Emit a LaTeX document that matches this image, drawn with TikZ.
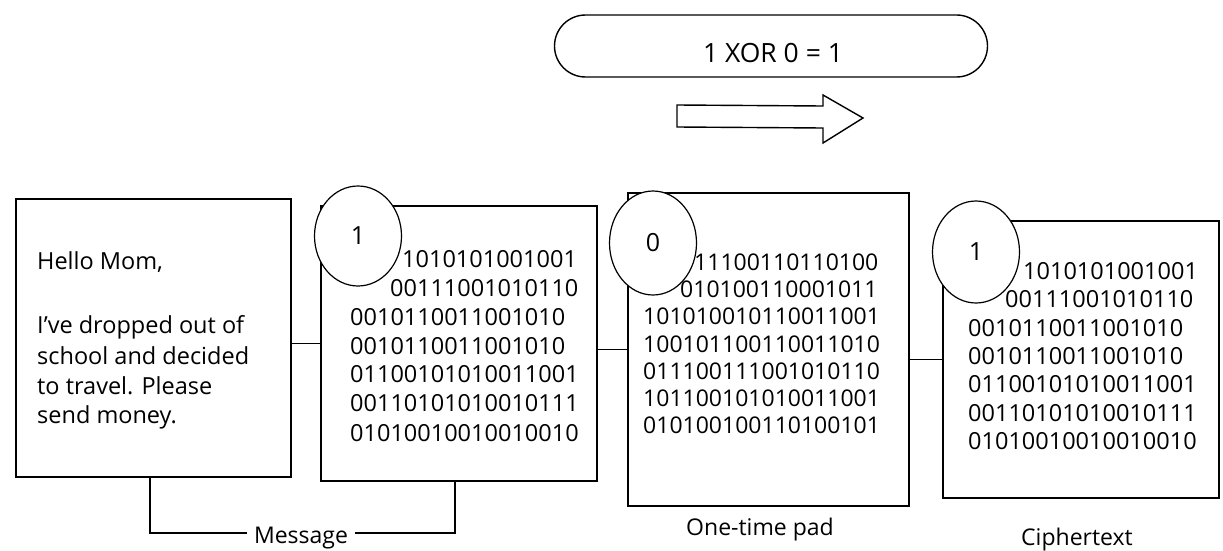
\documentclass[tikz,border=0pt]{standalone}
\usepackage{fontspec}
\setmainfont{Open Sans}
\newfontfamily\bitfont{Open Sans}[Numbers={Monospaced,Lining}]
\usetikzlibrary{shapes.geometric}
\tikzset{
  sheet/.style={draw, line width=1.5pt, fill=white, inner sep=0pt, anchor=north west},
  badge/.style={ellipse, draw, line width=1.2pt, fill=white, minimum width=87pt,
    minimum height=100pt, inner sep=0pt, font=\fontsize{25}{25}\selectfont},
  bitsA/.style={anchor=base west, inner sep=0pt, font=\bitfont\fontsize{23.5}{23.5}\selectfont},
  bitsB/.style={anchor=base west, inner sep=0pt, font=\bitfont\fontsize{23}{23}\selectfont},
  bitsC/.style={anchor=base west, inner sep=0pt, font=\bitfont\fontsize{23.5}{23.5}\selectfont},
  letter/.style={anchor=base west, inner sep=0pt, font=\fontsize{23.5}{23.5}\selectfont},
  caption/.style={anchor=base, inner sep=7pt, font=\fontsize{23}{23}\selectfont},
  link/.style={line width=1.2pt},
  pill/.style={draw, line width=1.4pt, rounded corners=31pt, minimum width=433pt,
    minimum height=62pt},
  pilltext/.style={inner sep=0pt, font=\fontsize{26.5}{26.5}\selectfont},
  bigarrow/.style={draw, line width=1.4pt, line join=miter}
}
\begin{document}
\begin{tikzpicture}[x=1pt,y=-1pt]
\useasboundingbox (0,0) rectangle (1223,551);

% XOR banner and arrow
\node[pill] (xor) at (771,46) {};
\node[pilltext] (xortext) at (773,53) {1 XOR 0 = 1};
\coordinate (a1) at (677,105);
\coordinate (a2) at (823,106);
\coordinate (a3) at (823,95);
\coordinate (a4) at (863,118);
\coordinate (a5) at (823,143);
\coordinate (a6) at (823,128);
\coordinate (a7) at (677,127);
\draw[bigarrow] (a1) -- (a2) -- (a3) -- (a4) -- (a5) -- (a6) -- (a7) -- cycle;

% sheets
\node[sheet, minimum width=275pt, minimum height=278pt] (msgbox) at (15,198) {};
\node[sheet, minimum width=276pt, minimum height=275pt] (plain) at (320,205) {};
\node[sheet, minimum width=281pt, minimum height=313pt] (pad) at (627,192) {};
\node[sheet, minimum width=276pt, minimum height=277pt] (cipher) at (942,220) {};

% connectors between sheets
\draw[link] (plain.west -| msgbox.east) -- (plain.west);
\draw[link] (pad.west -| plain.east) -- (pad.west);
\draw[link] (cipher.west -| pad.east) -- (cipher.west);

% letter text
\node[letter] (t1) at (37,269) {Hello Mom,};
\node[letter] (t2) at (37,333) {I’ve dropped out of};
\node[letter] (t3) at (37,364) {school and decided};
\node[letter] (t4) at (37,394) {to travel. Please};
\node[letter] (t5) at (37,423) {send money.};

% message bits
\node[bitsA] (p1) at (402,267) {1010101001001};
\node[bitsA] (p2) at (390,296) {00111001010110};
\node[bitsA] (p3) at (350,325) {0010110011001010};
\node[bitsA] (p4) at (350,354) {0010110011001010};
\node[bitsA] (p5) at (350,382) {01100101010011001};
\node[bitsA] (p6) at (350,411) {00110101010010111};
\node[bitsA] (p7) at (350,441) {01010010010010010};

% pad bits
\node[bitsB] (k1) at (694,270) {11100110110100};
\node[bitsB] (k2) at (680,297) {010100110001011};
\node[bitsB] (k3) at (643,324) {101010010110011001};
\node[bitsB] (k4) at (643,352) {100101100110011010};
\node[bitsB] (k5) at (643,379) {011100111001010110};
\node[bitsB] (k6) at (643,406) {101100101010011001};
\node[bitsB] (k7) at (643,433) {010100100110100101};

% cipher bits
\node[bitsC] (c1) at (1023,279) {1010101001001};
\node[bitsC] (c2) at (1005,307) {00111001010110};
\node[bitsC] (c3) at (968,336) {0010110011001010};
\node[bitsC] (c4) at (968,364) {0010110011001010};
\node[bitsC] (c5) at (968,392) {01100101010011001};
\node[bitsC] (c6) at (968,421) {00110101010010111};
\node[bitsC] (c7) at (968,449) {01010010010010010};

% badges
\node[badge] (b1) at (358,236) {1};
\node[badge, minimum height=104pt] (b2) at (653,243) {0};
\node[badge, minimum height=102pt] (b3) at (976,252) {1};

% captions
\node[caption] (msg) at (301,543) {Message};
\node[caption] (padlabel) at (760,535) {One-time pad};
\node[caption] (cipherlabel) at (1077,545) {Ciphertext};

% message bracket
\coordinate (ml) at (150,533);
\coordinate (mr) at (455,533);
\draw[link] (msgbox.south -| ml) -- (ml) -- (msg.west |- ml);
\draw[link] (msg.east |- mr) -- (mr) -- (plain.south -| mr);
\end{tikzpicture}
\end{document}
